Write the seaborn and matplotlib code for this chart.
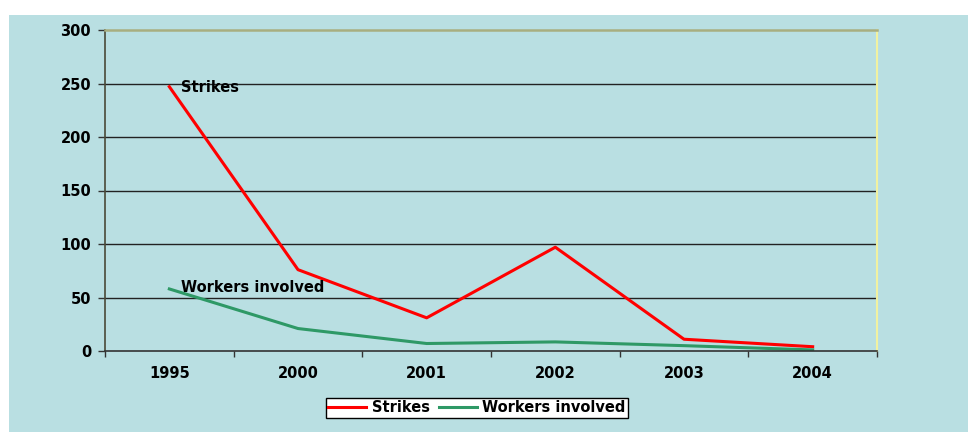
import pandas as pd
import numpy as np
import matplotlib
matplotlib.use("Agg")
import matplotlib.pyplot as plt
import seaborn as sns
from matplotlib.patches import Rectangle
from matplotlib.ticker import FixedLocator

years = ['1995', '2000', '2001', '2002', '2003', '2004']
strikes = [247, 76, 31, 97, 11, 4]
workers = [58, 21, 7, 8.5, 5, 1]
yticks = [0, 50, 100, 150, 200, 250, 300]

df = pd.DataFrame({
    'Year': years * 2,
    'Value': strikes + workers,
    'Series': ['Strikes'] * len(years) + ['Workers involved'] * len(years),
})

plt.rcParams['font.family'] = ['DejaVu Sans']
plt.rcParams['font.weight'] = 'bold'
fs = 10.5

bg = '#B9DFE2'
fig = plt.figure(figsize=(9.68, 4.32), dpi=100)
fig.patches.append(Rectangle((9 / 968, 0), 1, 1 - 15 / 432, transform=fig.transFigure,
                             facecolor=bg, edgecolor='none', zorder=-10))
ax = fig.add_axes([105 / 968, 1 - 351 / 432, 772 / 968, 321 / 432])
ax.set_facecolor(bg)

sns.lineplot(data=df, x='Year', y='Value', hue='Series', sort=False,
             palette={'Strikes': '#FF0000', 'Workers involved': '#2E9966'},
             linewidth=2.2, ax=ax, legend=True)

ax.set_xlim(-0.5, len(years) - 0.5)
ax.set_ylim(0, 300)
ax.set_yticks(yticks)
ax.set_xticks(range(len(years)))
ax.set_xticklabels(years)
ax.xaxis.set_minor_locator(FixedLocator(np.arange(-0.5, len(years), 1)))
ax.tick_params(axis='x', which='major', length=0, pad=11, labelsize=fs)
ax.tick_params(axis='x', which='minor', length=4, width=1, color='#333333')
ax.tick_params(axis='y', length=5, width=1, color='#333333', pad=5, labelsize=fs)
for lab in ax.get_xticklabels() + ax.get_yticklabels():
    lab.set_fontweight('bold')

for y in yticks[1:-1]:
    ax.axhline(y, color='#222222', linewidth=1, zorder=1)
ax.spines['top'].set_color('#A8AE80')
ax.spines['top'].set_linewidth(1.8)
ax.spines['right'].set_color('#F2F2A0')
ax.spines['right'].set_linewidth(1.5)
ax.spines['left'].set_color('#4A4A38')
ax.spines['left'].set_linewidth(1.2)
ax.spines['bottom'].set_color('#333333')
ax.spines['bottom'].set_linewidth(1.2)
ax.set_xlabel('')
ax.set_ylabel('')

ax.text(0.09, strikes[0] - 1, 'Strikes', fontsize=fs, fontweight='bold', va='center', ha='left')
ax.text(0.09, workers[0] + 1, 'Workers involved', fontsize=fs, fontweight='bold', va='center', ha='left')

handles, labels = ax.get_legend_handles_labels()
leg = ax.legend(handles, labels, loc='center', bbox_to_anchor=(477 / 968, 1 - 408 / 432),
                bbox_transform=fig.transFigure, ncol=2, frameon=True, fancybox=False,
                edgecolor='black', facecolor='white', framealpha=1, fontsize=fs,
                handlelength=2.6, columnspacing=0.6, handletextpad=0.4,
                borderpad=0.15, borderaxespad=0)
leg.get_frame().set_linewidth(1)
for t in leg.get_texts():
    t.set_fontweight('bold')

fig.savefig('out.png', dpi=100, facecolor='white')
